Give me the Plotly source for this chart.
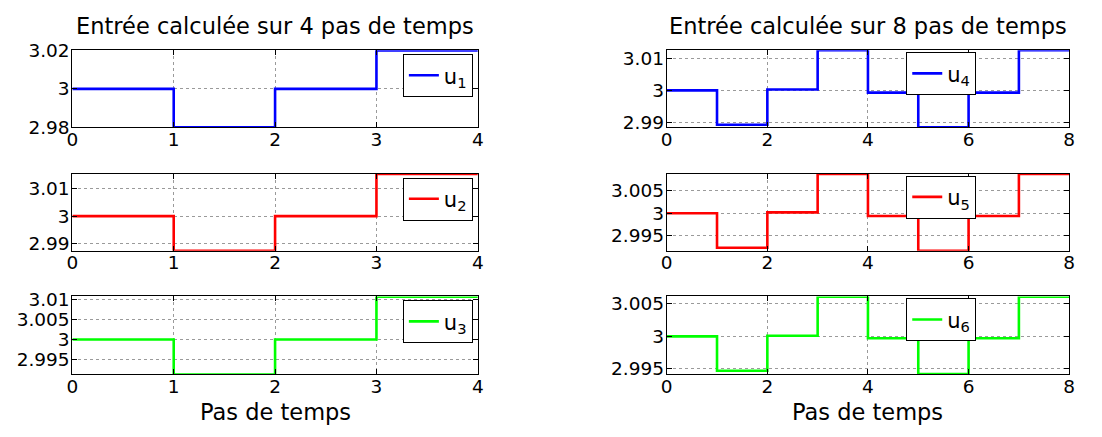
import plotly.graph_objects as go

# ---- data ----
steps_left = [0, 1, 2, 3, 4]
steps_right = [0, 1, 2, 3, 4, 5, 6, 7, 8]
u1 = [3.0, 2.98, 3.0, 3.02]
u2 = [3.0, 2.9875, 3.0, 3.0152]
u3 = [3.0, 2.9912, 3.0, 3.0108]
u4 = [3.0, 2.9893, 3.0003, 3.0125, 2.9993, 2.9885, 2.9993, 3.0125]
u5 = [3.0, 2.9923, 3.0002, 3.0088, 2.9994, 2.9916, 2.9994, 3.0088]
u6 = [3.0, 2.9947, 3.0001, 3.0061, 2.9997, 2.9942, 2.9997, 3.0061]

names = ["u<sub>1</sub>", "u<sub>2</sub>", "u<sub>3</sub>",
         "u<sub>4</sub>", "u<sub>5</sub>", "u<sub>6</sub>"]
colors = ["#0000ff", "#ff0000", "#00ff00", "#0000ff", "#ff0000", "#00ff00"]
series = [u1, u2, u3, u4, u5, u6]

yranges = [[2.98, 3.02], [2.98746, 3.01525], [2.99123, 3.01085],
           [2.98849, 3.01249], [2.99161, 3.00881], [2.99415, 3.00615]]
ytickvals = [[2.98, 3.0, 3.02], [2.99, 3.0, 3.01], [2.995, 3.0, 3.005, 3.01],
             [2.99, 3.0, 3.01], [2.995, 3.0, 3.005], [2.995, 3.0, 3.005]]
yticktext = [["2.98", "3", "3.02"], ["2.99", "3", "3.01"], ["2.995", "3", "3.005", "3.01"],
             ["2.99", "3", "3.01"], ["2.995", "3", "3.005"], ["2.995", "3", "3.005"]]
xtick_left = [0, 1, 2, 3, 4]
xtick_right = [0, 2, 4, 6, 8]
titles = ["Entrée calculée sur 4 pas de temps", "Entrée calculée sur 8 pas de temps"]
xlabel = "Pas de temps"

# page is 1102x437; the body keeps its default 8px margin
OFF = 8
FW, FH = 1102 - 2 * OFF, 437 - 2 * OFF
FONT = "DejaVu Sans"


def px_x(p):
    return (p - OFF) / FW


def px_y(p):
    return 1 - (p - OFF) / FH


cols_px = [(67, 477), (668, 1075)]
rows_px = [(41, 122), (171, 252), (300, 382)]
col_dom = [[px_x(a), px_x(b)] for a, b in cols_px]
row_dom = [[px_y(b), px_y(t)] for t, b in rows_px]

fig = go.Figure()
layout = dict(
    width=FW, height=FH, margin=dict(l=0, r=0, t=0, b=0),
    paper_bgcolor="white", plot_bgcolor="white",
    font=dict(family=FONT, color="black", size=18.5),
    showlegend=True,
)

leg_pos = [(472, 45), (472, 175), (472, 304), (981, 43), (981, 173), (981, 302)]

for i in range(6):
    col = 0 if i < 3 else 1
    row = i % 3
    steps = steps_left if col == 0 else steps_right
    vals = series[i]
    y = vals + [vals[-1]]
    ax = "" if i == 0 else str(i + 1)
    leg = "legend" if i == 0 else "legend" + str(i + 1)
    fig.add_trace(go.Scatter(
        x=steps, y=y, mode="lines", line=dict(shape="hv", color=colors[i], width=2.6),
        name=names[i], xaxis="x" + ax, yaxis="y" + ax, legend=leg,
    ))
    common = dict(showline=True, linecolor="black", linewidth=1, mirror="ticks",
                  ticks="inside", ticklen=5, tickcolor="black",
                  showgrid=True, gridcolor="#9a9a9a", griddash="dot", gridwidth=1,
                  zeroline=False, tickfont=dict(size=18.5, family=FONT))
    layout["xaxis" + ax] = dict(
        domain=col_dom[col], anchor="y" + ax,
        range=[0, 4] if col == 0 else [0, 8],
        tickvals=xtick_left if col == 0 else xtick_right,
        ticklabelstandoff=-5,
        **common,
    )
    layout["yaxis" + ax] = dict(
        domain=row_dom[row], anchor="x" + ax, range=yranges[i],
        tickvals=ytickvals[i], ticktext=yticktext[i],
        ticklabelstandoff=-2,
        **common,
    )
    lx, ly = leg_pos[i]
    layout[leg] = dict(
        x=px_x(lx), y=px_y(ly), xanchor="right", yanchor="top",
        bgcolor="white", bordercolor="black", borderwidth=1,
        font=dict(size=21, family=FONT), itemwidth=30,
    )

annotations = []
for col in range(2):
    cx = (col_dom[col][0] + col_dom[col][1]) / 2
    annotations.append(dict(text=titles[col], x=cx, y=px_y(15), xref="paper", yref="paper",
                            showarrow=False, xanchor="center", yanchor="middle",
                            font=dict(size=22.5, family=FONT)))
    annotations.append(dict(text=xlabel, x=cx, y=px_y(422), xref="paper", yref="paper",
                            showarrow=False, xanchor="center", yanchor="middle",
                            font=dict(size=22.5, family=FONT)))
layout["annotations"] = annotations

fig.update_layout(**layout)
fig.write_html("out.html", config={"displayModeBar": False})
